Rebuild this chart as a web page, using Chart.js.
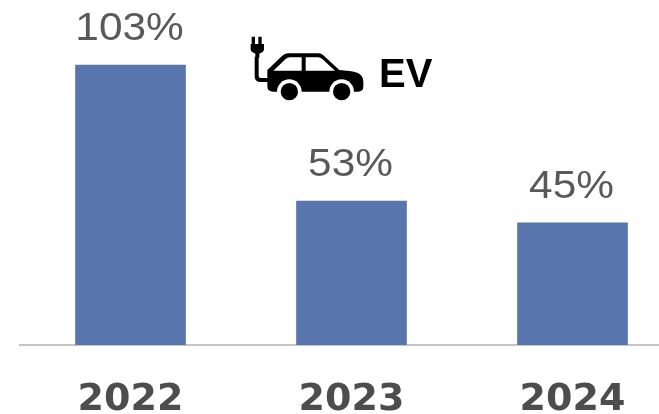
<!DOCTYPE html>
<html>
<head>
<meta charset="utf-8">
<script src="https://cdn.jsdelivr.net/npm/chart.js@4"></script>
<style>
  html, body { margin: 0; padding: 0; background: #fff; overflow: hidden; }
  #wrap { position: relative; width: 659px; height: 414px; overflow: hidden; }
  #myChart { position: absolute; left: 0; top: 0; }
  #icon { position: absolute; left: 230px; top: 20px; }
  #ev { position: absolute; left: 379px; top: 50px; font: bold 40px "Liberation Sans"; line-height: 46px; color: #000; }
</style>
</head>
<body>
<div id="wrap">
  <canvas id="myChart" width="690" height="414"></canvas>
  <!-- plug and car -->
  <svg id="icon" width="220" height="100" viewBox="0 0 660 300">
    <path fill="#000" d="M65 50h10v22h10v-22h10v22h7v14q0 9-9 12l-5 3v12h-12v-12l-5-3q-9-3-9-12v-14h3z"/>
    <path fill="none" stroke="#000" stroke-width="12" d="M80 110v58q0 12 12 12h25"/>
    <path fill="#000" d="M112 150l44-42q8-8 18-8h92q8 0 14 6l48 44l30 3q42 4 42 32v14q0 16-16 16h-254q-18 0-18-16z"/>
    <path fill="#fff" d="M130 152l36-34q6-6 14-6h35v40zM227 112h38q6 0 12 5l38 35h-88z"/>
    <circle cx="178" cy="215" r="37" fill="#fff"/>
    <circle cx="335" cy="215" r="37" fill="#fff"/>
    <circle cx="178" cy="215" r="26" fill="#000"/>
    <circle cx="335" cy="215" r="26" fill="#000"/>
  </svg>
  <div id="ev">EV</div>
</div>
<script>
const categories = ['2022', '2023', '2024'];
const growth = [103, 53, 45];
const percentLabels = ['103%', '53%', '45%'];

// percent text above each bar, stretched wide like the source image
const barLabels = {
  id: 'barLabels',
  afterDatasetsDraw(chart) {
    const ctx = chart.ctx;
    chart.getDatasetMeta(0).data.forEach(function (bar, i) {
      ctx.save();
      ctx.translate(bar.x - 1, bar.y - 25);
      ctx.scale(1.115, 1);
      ctx.font = '38px "Liberation Sans"';
      ctx.fillStyle = '#595959';
      ctx.textAlign = 'center';
      ctx.fillText(percentLabels[i], 0, 0);
      ctx.restore();
    });
  }
};

new Chart(document.getElementById('myChart'), {
  type: 'bar',
  data: {
    labels: categories,
    datasets: [{
      data: growth,
      backgroundColor: '#5975ae',
      barThickness: 110
    }]
  },
  options: {
    responsive: false,
    animation: false,
    layout: { padding: { left: 20, right: 7, top: 19, bottom: 0 } },
    plugins: { legend: { display: false }, tooltip: { enabled: false } },
    scales: {
      x: {
        afterFit(scale) { scale.height = 69; },
        grid: { display: false },
        border: { color: '#c4c4c4', width: 2, dash: [2, 1] },
        ticks: {
          color: '#4d4d4d',
          padding: 24,
          font: { family: 'DejaVu Sans', weight: 'bold', size: 38 }
        }
      },
      y: { display: false, min: 0, max: 120 }
    }
  },
  plugins: [barLabels]
});
</script>
</body>
</html>
